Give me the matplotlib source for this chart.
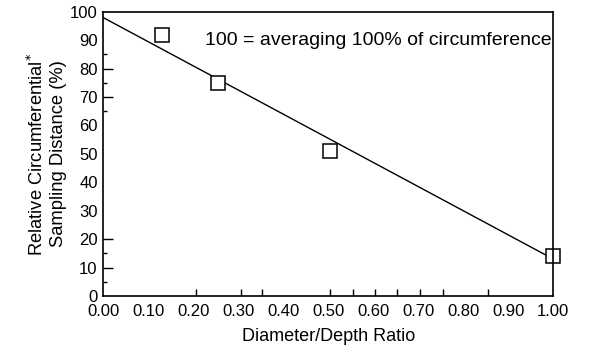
import numpy as np
import matplotlib
matplotlib.use('Agg')
import matplotlib.pyplot as plt

plt.rcParams['font.family'] = ['Liberation Sans', 'DejaVu Sans']

# measured points (diameter/depth ratio, relative sampling distance)
ratio = [0.13, 0.255, 0.503, 1.0]
distance = [92, 75, 51, 14]
# straight fit line end points
fit_x = [0.0, 1.0]
fit_y = [98, 13]

x_labels = [0.0, 0.1, 0.2, 0.3, 0.4, 0.5, 0.6, 0.7, 0.8, 0.9, 1.0]
y_labels = [0, 10, 20, 30, 40, 50, 60, 70, 80, 90, 100]
# the tick marks on the original are scattered, not on every label
x_marks = [0.207, 0.307, 0.353, 0.504, 0.556, 0.604, 0.653, 0.704, 0.756, 0.856]
y_marks_long = [10, 20, 70, 80]
y_marks_short = [5, 15, 65, 75, 85]

fig = plt.figure(figsize=(6, 3.6), dpi=100)
ax = fig.add_axes([0.172, 0.178, 0.75, 0.789])

ax.plot(fit_x, fit_y, '-k', lw=1.0)
ax.plot(ratio, distance, 's', ms=9.5, mfc='white', mec='black', mew=1.1, clip_on=False)

ax.set_xlim(0, 1)
ax.set_ylim(0, 100)

ax.set_xticks(x_labels)
ax.set_xticklabels(['%.2f' % v for v in x_labels])
ax.set_xticks(x_marks, minor=True)
ax.set_yticks(y_labels)
ax.set_yticks(y_marks_short, minor=True)
ax.tick_params(which='major', length=0, labelsize=12, pad=6)
ax.tick_params(axis='y', which='major', pad=4)
ax.tick_params(which='minor', direction='in', length=5, width=1)
ax.tick_params(axis='y', which='minor', length=3)

sec = ax.secondary_yaxis('left')
sec.set_yticks(y_marks_long)
sec.tick_params(direction='in', length=7, width=1, labelleft=False)
sec.spines['left'].set_visible(False)

for s in ax.spines.values():
    s.set_linewidth(1.2)

ax.set_xlabel('Diameter/Depth Ratio', fontsize=13, labelpad=6)
ax.set_ylabel('Relative Circumferential$^{*}$\nSampling Distance (%)', fontsize=13.2,
              labelpad=2, linespacing=1.25)

ax.text(0.227, 90, '100 = averaging 100% of circumference', fontsize=14, va='center')

fig.savefig('out.png', dpi=100)
